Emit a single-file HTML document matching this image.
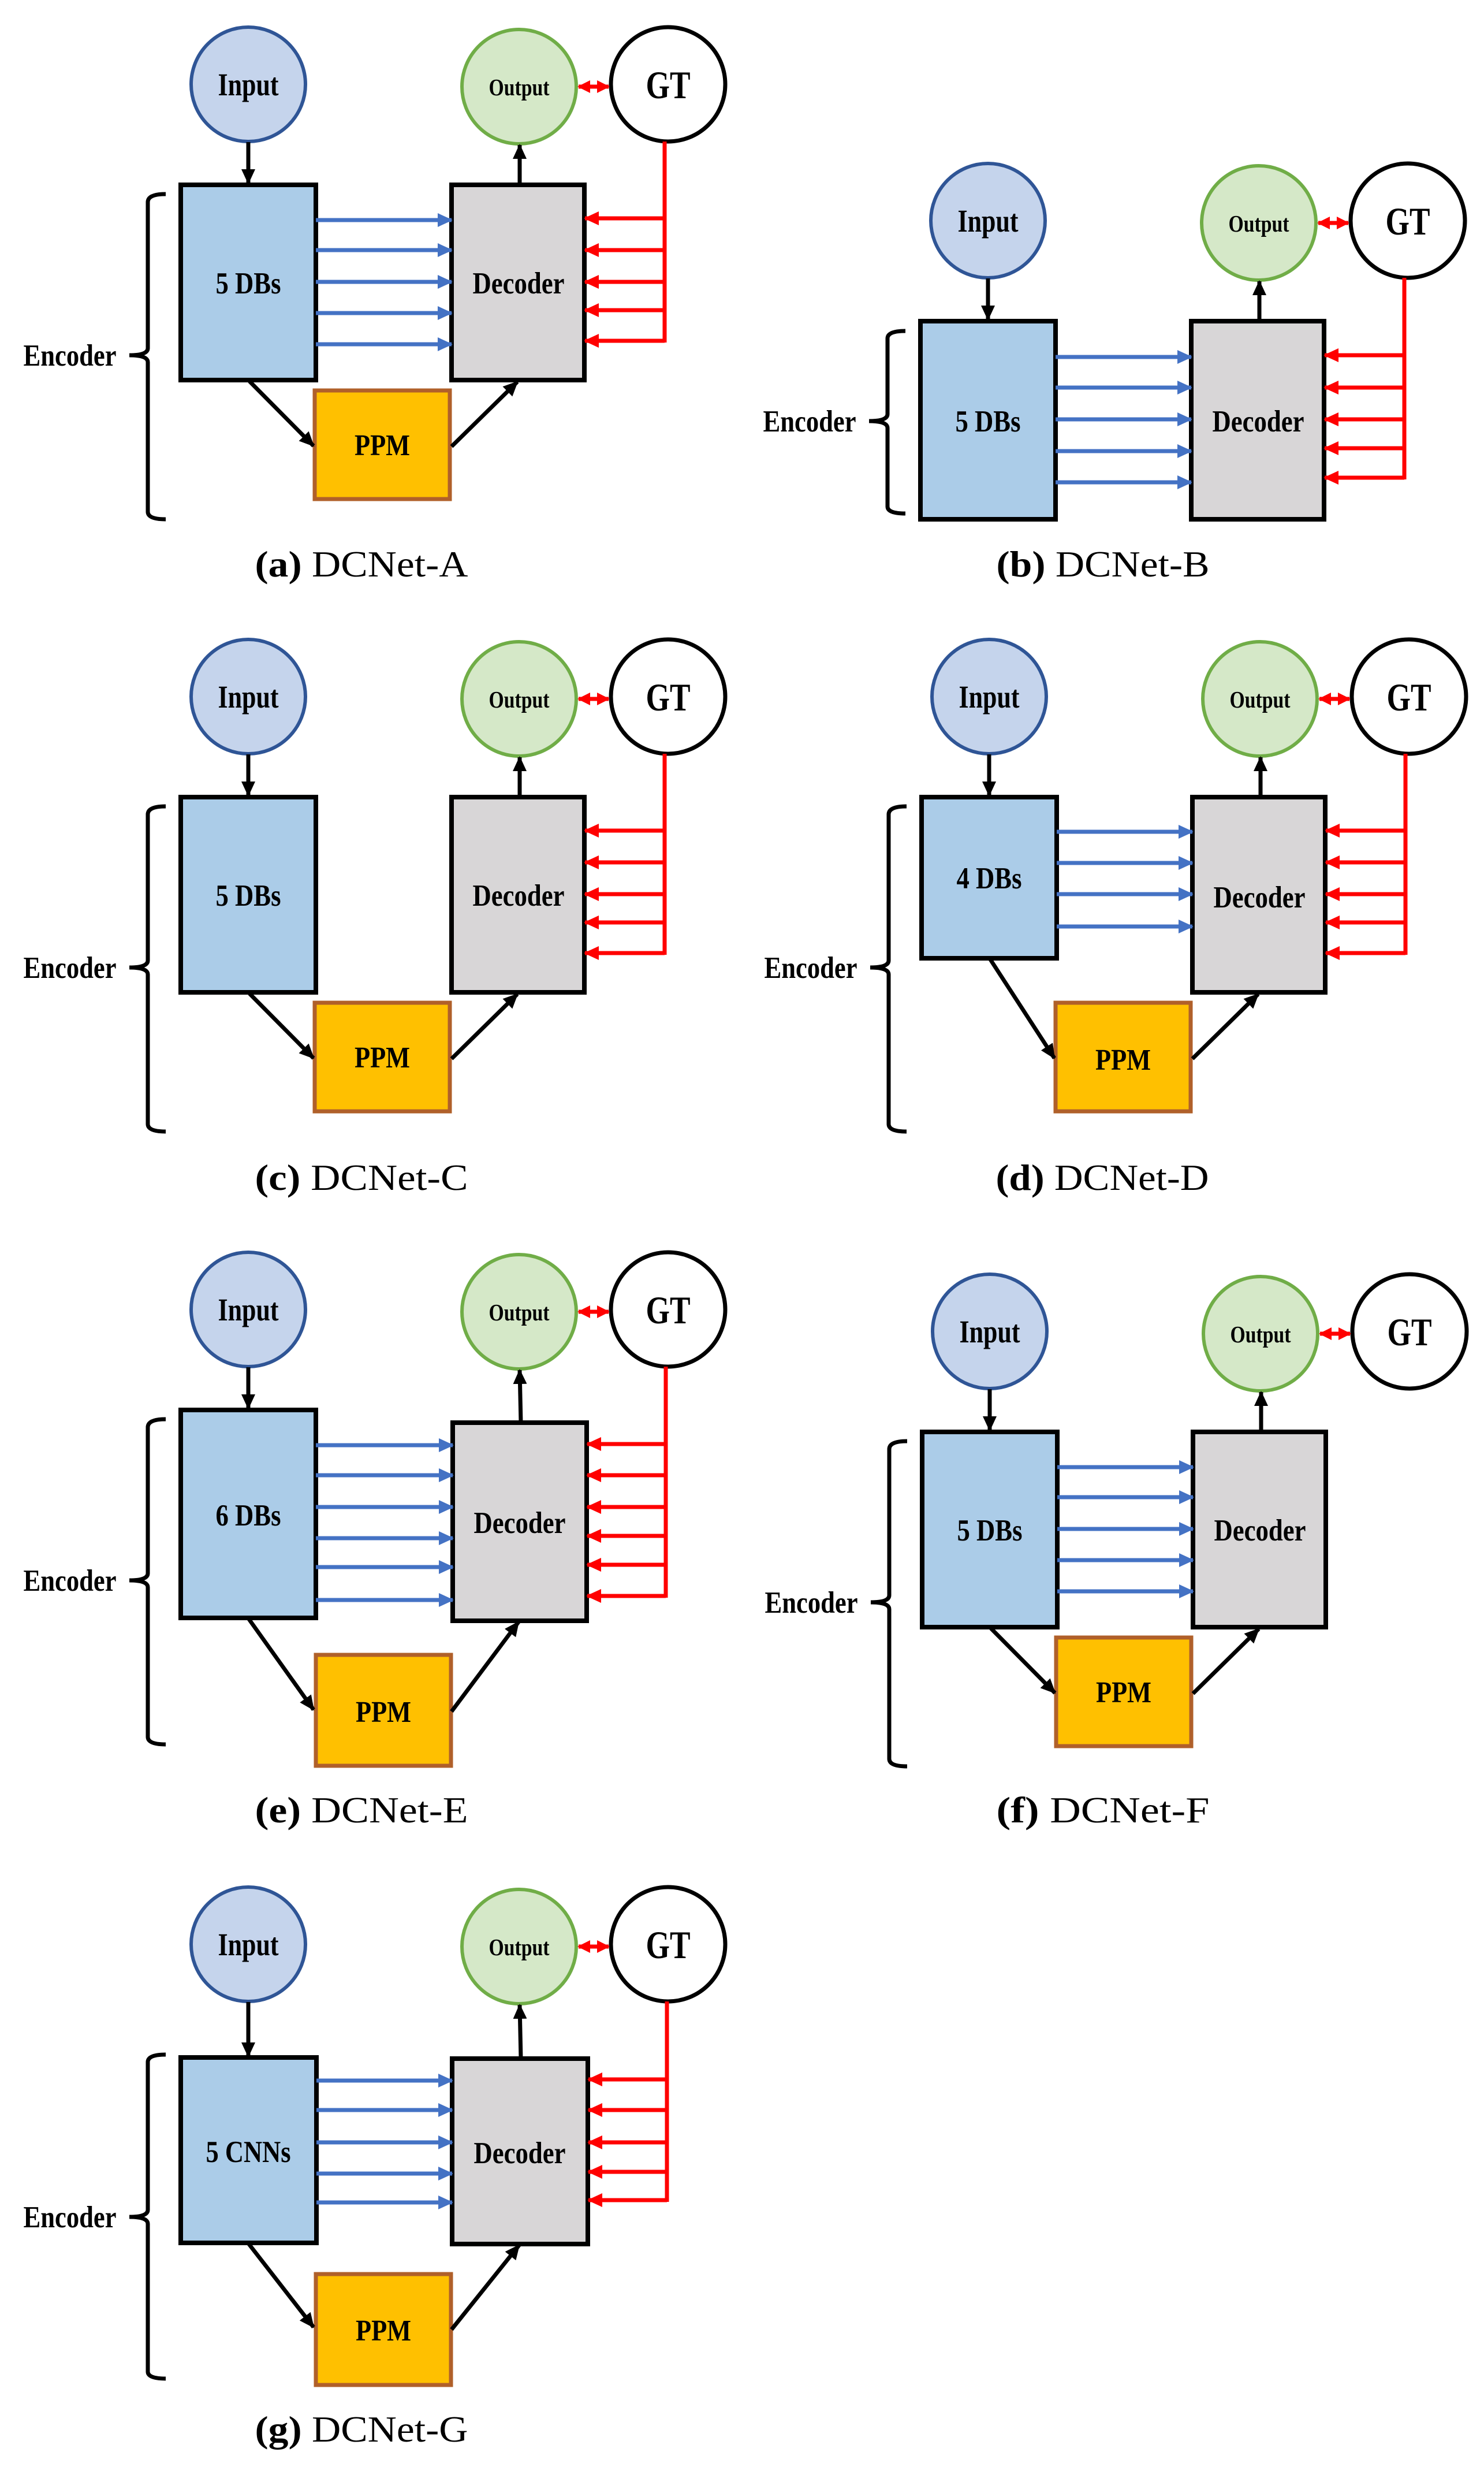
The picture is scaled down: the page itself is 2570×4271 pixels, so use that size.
<!DOCTYPE html>
<html><head><meta charset="utf-8">
<style>
html,body{margin:0;padding:0;background:#fff;}
svg{display:block;}
.t{font-family:"Liberation Serif",serif;font-weight:bold;fill:#000;text-anchor:middle;}
.cap{font-family:"Liberation Serif",serif;fill:#000;text-anchor:middle;font-size:64px;}
text[font-size="48"]{font-size:55px;}
text[font-size="36"]{font-size:41px;}
text[font-size="60"]{font-size:68px;}
text[font-size="46"]{font-size:53px;}
text[font-size="45"]{font-size:52px;}
text[font-size="47"]{font-size:53px;}
.bl{stroke:#4472c4;stroke-width:7;marker-end:url(#mb);}
.rd{stroke:#ff0000;stroke-width:7;marker-end:url(#mr);}
.rv{stroke:#ff0000;stroke-width:7;}
.bk{stroke:#000;stroke-width:7;marker-end:url(#mk);}
.dbl{stroke:#ff0000;stroke-width:7;marker-end:url(#mr2);marker-start:url(#mr2);}
.brace{fill:none;stroke:#000;stroke-width:7;}
</style></head>
<body>
<svg width="2570" height="4271" viewBox="0 0 2570 4271" xmlns="http://www.w3.org/2000/svg">
<defs>
<marker id="mb" markerUnits="userSpaceOnUse" markerWidth="26" markerHeight="26" refX="24" refY="12" orient="auto"><path d="M0,0 L26,12 L0,24 z" fill="#4472c4"/></marker>
<marker id="mr" markerUnits="userSpaceOnUse" markerWidth="26" markerHeight="26" refX="24" refY="12" orient="auto"><path d="M0,0 L26,12 L0,24 z" fill="#ff0000"/></marker>
<marker id="mr2" markerUnits="userSpaceOnUse" markerWidth="22" markerHeight="24" refX="20" refY="11" orient="auto-start-reverse"><path d="M0,0 L22,11 L0,22 z" fill="#ff0000"/></marker>
<marker id="mk" markerUnits="userSpaceOnUse" markerWidth="26" markerHeight="26" refX="24" refY="12" orient="auto"><path d="M0,0 L26,12 L0,24 z" fill="#000"/></marker>
</defs>

<!-- (a) -->
<g transform="translate(0,0)">
<circle cx="430" cy="146" r="99" fill="#c5d4ec" stroke="#2f5596" stroke-width="6"/>
<circle cx="899" cy="150" r="99" fill="#d5e8c8" stroke="#70ad47" stroke-width="6"/>
<circle cx="1157" cy="146" r="99" fill="#fff" stroke="#000" stroke-width="7"/>
<line class="dbl" x1="1002" y1="150" x2="1054" y2="150"/>
<line class="bk" x1="430" y1="246" x2="430" y2="317"/>
<rect x="313" y="320" width="234" height="338" fill="#abcce8" stroke="#000" stroke-width="8"/>
<rect x="782" y="320" width="230" height="338" fill="#d8d6d7" stroke="#000" stroke-width="8"/>
<line class="bk" x1="900" y1="320" x2="900" y2="251"/>
<line class="bl" x1="547" y1="381" x2="782" y2="381"/><line class="bl" x1="547" y1="433" x2="782" y2="433"/><line class="bl" x1="547" y1="488" x2="782" y2="488"/><line class="bl" x1="547" y1="542" x2="782" y2="542"/><line class="bl" x1="547" y1="596" x2="782" y2="596"/>
<line class="rv" x1="1151" y1="245" x2="1151" y2="593"/>
<line class="rd" x1="1151" y1="378" x2="1013" y2="378"/><line class="rd" x1="1151" y1="433" x2="1013" y2="433"/><line class="rd" x1="1151" y1="488" x2="1013" y2="488"/><line class="rd" x1="1151" y1="537" x2="1013" y2="537"/><line class="rd" x1="1151" y1="590" x2="1013" y2="590"/>
<rect x="545" y="676" width="234" height="188" fill="#ffc000" stroke="#b0602a" stroke-width="7"/>
<line class="bk" x1="432" y1="660" x2="543" y2="772"/>
<line class="bk" x1="782" y1="773" x2="896" y2="661"/>
<path class="brace" d="M287,336 Q256,336 256,350 L256,603 Q256,615 224,615 Q256,615 256,627 L256,886 Q256,899 287,899"/>
<text class="t" x="121" y="633" font-size="47" textLength="161" lengthAdjust="spacingAndGlyphs">Encoder</text>
<text class="t" x="430" y="165" font-size="48" textLength="105" lengthAdjust="spacingAndGlyphs">Input</text>
<text class="t" x="899" y="165" font-size="36" textLength="105" lengthAdjust="spacingAndGlyphs">Output</text>
<text class="t" x="1157" y="170" font-size="60" textLength="77" lengthAdjust="spacingAndGlyphs">GT</text>
<text class="t" x="430" y="508" font-size="46" textLength="113" lengthAdjust="spacingAndGlyphs">5 DBs</text>
<text class="t" x="898" y="508" font-size="46" textLength="159" lengthAdjust="spacingAndGlyphs">Decoder</text>
<text class="t" x="662" y="788" font-size="45" textLength="96" lengthAdjust="spacingAndGlyphs">PPM</text>
</g>
<text class="cap" x="626" y="998" textLength="369" lengthAdjust="spacingAndGlyphs"><tspan font-weight="bold">(a)</tspan> DCNet-A</text>

<!-- (b) -->
<g transform="translate(1281,236)">
<circle cx="430" cy="146" r="99" fill="#c5d4ec" stroke="#2f5596" stroke-width="6"/>
<circle cx="899" cy="150" r="99" fill="#d5e8c8" stroke="#70ad47" stroke-width="6"/>
<circle cx="1157" cy="146" r="99" fill="#fff" stroke="#000" stroke-width="7"/>
<line class="dbl" x1="1002" y1="150" x2="1054" y2="150"/>
<line class="bk" x1="430" y1="246" x2="430" y2="317"/>
<rect x="313" y="320" width="234" height="343" fill="#abcce8" stroke="#000" stroke-width="8"/>
<rect x="782" y="320" width="230" height="343" fill="#d8d6d7" stroke="#000" stroke-width="8"/>
<line class="bk" x1="900" y1="320" x2="900" y2="251"/>
<line class="bl" x1="547" y1="382" x2="782" y2="382"/><line class="bl" x1="547" y1="435" x2="782" y2="435"/><line class="bl" x1="547" y1="490" x2="782" y2="490"/><line class="bl" x1="547" y1="545" x2="782" y2="545"/><line class="bl" x1="547" y1="599" x2="782" y2="599"/>
<line class="rv" x1="1151" y1="245" x2="1151" y2="594"/>
<line class="rd" x1="1151" y1="379" x2="1013" y2="379"/><line class="rd" x1="1151" y1="435" x2="1013" y2="435"/><line class="rd" x1="1151" y1="490" x2="1013" y2="490"/><line class="rd" x1="1151" y1="540" x2="1013" y2="540"/><line class="rd" x1="1151" y1="591" x2="1013" y2="591"/>
<path class="brace" d="M287,337 Q256,337 256,350 L256,481 Q256,493 224,493 Q256,493 256,505 L256,641 Q256,653 287,653"/>
<text class="t" x="121" y="511" font-size="47" textLength="161" lengthAdjust="spacingAndGlyphs">Encoder</text>
<text class="t" x="430" y="165" font-size="48" textLength="105" lengthAdjust="spacingAndGlyphs">Input</text>
<text class="t" x="899" y="165" font-size="36" textLength="105" lengthAdjust="spacingAndGlyphs">Output</text>
<text class="t" x="1157" y="170" font-size="60" textLength="77" lengthAdjust="spacingAndGlyphs">GT</text>
<text class="t" x="430" y="511" font-size="46" textLength="113" lengthAdjust="spacingAndGlyphs">5 DBs</text>
<text class="t" x="898" y="511" font-size="46" textLength="159" lengthAdjust="spacingAndGlyphs">Decoder</text>
</g>
<text class="cap" x="1910" y="998" textLength="369" lengthAdjust="spacingAndGlyphs"><tspan font-weight="bold">(b)</tspan> DCNet-B</text>

<!-- (c) -->
<g transform="translate(0,1060)">
<circle cx="430" cy="146" r="99" fill="#c5d4ec" stroke="#2f5596" stroke-width="6"/>
<circle cx="899" cy="150" r="99" fill="#d5e8c8" stroke="#70ad47" stroke-width="6"/>
<circle cx="1157" cy="146" r="99" fill="#fff" stroke="#000" stroke-width="7"/>
<line class="dbl" x1="1002" y1="150" x2="1054" y2="150"/>
<line class="bk" x1="430" y1="246" x2="430" y2="317"/>
<rect x="313" y="320" width="234" height="338" fill="#abcce8" stroke="#000" stroke-width="8"/>
<rect x="782" y="320" width="230" height="338" fill="#d8d6d7" stroke="#000" stroke-width="8"/>
<line class="bk" x1="900" y1="320" x2="900" y2="251"/>
<line class="rv" x1="1151" y1="245" x2="1151" y2="593"/>
<line class="rd" x1="1151" y1="378" x2="1013" y2="378"/><line class="rd" x1="1151" y1="433" x2="1013" y2="433"/><line class="rd" x1="1151" y1="488" x2="1013" y2="488"/><line class="rd" x1="1151" y1="537" x2="1013" y2="537"/><line class="rd" x1="1151" y1="590" x2="1013" y2="590"/>
<rect x="545" y="676" width="234" height="188" fill="#ffc000" stroke="#b0602a" stroke-width="7"/>
<line class="bk" x1="432" y1="660" x2="543" y2="772"/>
<line class="bk" x1="782" y1="773" x2="896" y2="661"/>
<path class="brace" d="M287,336 Q256,336 256,350 L256,603 Q256,615 224,615 Q256,615 256,627 L256,886 Q256,899 287,899"/>
<text class="t" x="121" y="633" font-size="47" textLength="161" lengthAdjust="spacingAndGlyphs">Encoder</text>
<text class="t" x="430" y="165" font-size="48" textLength="105" lengthAdjust="spacingAndGlyphs">Input</text>
<text class="t" x="899" y="165" font-size="36" textLength="105" lengthAdjust="spacingAndGlyphs">Output</text>
<text class="t" x="1157" y="170" font-size="60" textLength="77" lengthAdjust="spacingAndGlyphs">GT</text>
<text class="t" x="430" y="508" font-size="46" textLength="113" lengthAdjust="spacingAndGlyphs">5 DBs</text>
<text class="t" x="898" y="508" font-size="46" textLength="159" lengthAdjust="spacingAndGlyphs">Decoder</text>
<text class="t" x="662" y="788" font-size="45" textLength="96" lengthAdjust="spacingAndGlyphs">PPM</text>
</g>
<text class="cap" x="626" y="2060" textLength="369" lengthAdjust="spacingAndGlyphs"><tspan font-weight="bold">(c)</tspan> DCNet-C</text>

<!-- (d) -->
<g transform="translate(1283,1060)">
<circle cx="430" cy="146" r="99" fill="#c5d4ec" stroke="#2f5596" stroke-width="6"/>
<circle cx="899" cy="150" r="99" fill="#d5e8c8" stroke="#70ad47" stroke-width="6"/>
<circle cx="1157" cy="146" r="99" fill="#fff" stroke="#000" stroke-width="7"/>
<line class="dbl" x1="1002" y1="150" x2="1054" y2="150"/>
<line class="bk" x1="430" y1="246" x2="430" y2="317"/>
<rect x="313" y="320" width="234" height="279" fill="#abcce8" stroke="#000" stroke-width="8"/>
<rect x="782" y="320" width="230" height="338" fill="#d8d6d7" stroke="#000" stroke-width="8"/>
<line class="bk" x1="900" y1="320" x2="900" y2="251"/>
<line class="bl" x1="547" y1="380" x2="782" y2="380"/><line class="bl" x1="547" y1="434" x2="782" y2="434"/><line class="bl" x1="547" y1="488" x2="782" y2="488"/><line class="bl" x1="547" y1="544" x2="782" y2="544"/>
<line class="rv" x1="1151" y1="245" x2="1151" y2="593"/>
<line class="rd" x1="1151" y1="378" x2="1013" y2="378"/><line class="rd" x1="1151" y1="433" x2="1013" y2="433"/><line class="rd" x1="1151" y1="488" x2="1013" y2="488"/><line class="rd" x1="1151" y1="537" x2="1013" y2="537"/><line class="rd" x1="1151" y1="590" x2="1013" y2="590"/>
<rect x="545" y="676" width="234" height="188" fill="#ffc000" stroke="#b0602a" stroke-width="7"/>
<line class="bk" x1="432" y1="601" x2="543" y2="772"/>
<line class="bk" x1="782" y1="773" x2="896" y2="661"/>
<path class="brace" d="M287,336 Q256,336 256,350 L256,603 Q256,615 224,615 Q256,615 256,627 L256,886 Q256,899 287,899"/>
<text class="t" x="121" y="633" font-size="47" textLength="161" lengthAdjust="spacingAndGlyphs">Encoder</text>
<text class="t" x="430" y="165" font-size="48" textLength="105" lengthAdjust="spacingAndGlyphs">Input</text>
<text class="t" x="899" y="165" font-size="36" textLength="105" lengthAdjust="spacingAndGlyphs">Output</text>
<text class="t" x="1157" y="170" font-size="60" textLength="77" lengthAdjust="spacingAndGlyphs">GT</text>
<text class="t" x="430" y="478" font-size="46" textLength="113" lengthAdjust="spacingAndGlyphs">4 DBs</text>
<text class="t" x="898" y="511" font-size="46" textLength="159" lengthAdjust="spacingAndGlyphs">Decoder</text>
<text class="t" x="662" y="792" font-size="45" textLength="96" lengthAdjust="spacingAndGlyphs">PPM</text>
</g>
<text class="cap" x="1909" y="2060" textLength="369" lengthAdjust="spacingAndGlyphs"><tspan font-weight="bold">(d)</tspan> DCNet-D</text>

<!-- (e) -->
<g transform="translate(0,2121)">
<circle cx="430" cy="146" r="99" fill="#c5d4ec" stroke="#2f5596" stroke-width="6"/>
<circle cx="899" cy="150" r="99" fill="#d5e8c8" stroke="#70ad47" stroke-width="6"/>
<circle cx="1157" cy="146" r="99" fill="#fff" stroke="#000" stroke-width="7"/>
<line class="dbl" x1="1002" y1="150" x2="1054" y2="150"/>
<line class="bk" x1="430" y1="246" x2="430" y2="317"/>
<rect x="313" y="320" width="234" height="360" fill="#abcce8" stroke="#000" stroke-width="8"/>
<rect x="784" y="342" width="232" height="343" fill="#d8d6d7" stroke="#000" stroke-width="8"/>
<line class="bk" x1="902" y1="342" x2="900" y2="251"/>
<line class="bl" x1="547" y1="381" x2="784" y2="381"/><line class="bl" x1="547" y1="433" x2="784" y2="433"/><line class="bl" x1="547" y1="488" x2="784" y2="488"/><line class="bl" x1="547" y1="542" x2="784" y2="542"/><line class="bl" x1="547" y1="592" x2="784" y2="592"/><line class="bl" x1="547" y1="649" x2="784" y2="649"/>
<line class="rv" x1="1153" y1="245" x2="1153" y2="645"/>
<line class="rd" x1="1153" y1="379" x2="1017" y2="379"/><line class="rd" x1="1153" y1="433" x2="1017" y2="433"/><line class="rd" x1="1153" y1="488" x2="1017" y2="488"/><line class="rd" x1="1153" y1="538" x2="1017" y2="538"/><line class="rd" x1="1153" y1="588" x2="1017" y2="588"/><line class="rd" x1="1153" y1="642" x2="1017" y2="642"/>
<rect x="547" y="744" width="234" height="192" fill="#ffc000" stroke="#b0602a" stroke-width="7"/>
<line class="bk" x1="431" y1="682" x2="543" y2="839"/>
<line class="bk" x1="782" y1="842" x2="898" y2="687"/>
<path class="brace" d="M287,336 Q256,336 256,350 L256,603 Q256,615 224,615 Q256,615 256,627 L256,886 Q256,899 287,899"/>
<text class="t" x="121" y="633" font-size="47" textLength="161" lengthAdjust="spacingAndGlyphs">Encoder</text>
<text class="t" x="430" y="165" font-size="48" textLength="105" lengthAdjust="spacingAndGlyphs">Input</text>
<text class="t" x="899" y="165" font-size="36" textLength="105" lengthAdjust="spacingAndGlyphs">Output</text>
<text class="t" x="1157" y="170" font-size="60" textLength="77" lengthAdjust="spacingAndGlyphs">GT</text>
<text class="t" x="430" y="520" font-size="46" textLength="113" lengthAdjust="spacingAndGlyphs">6 DBs</text>
<text class="t" x="900" y="533" font-size="46" textLength="159" lengthAdjust="spacingAndGlyphs">Decoder</text>
<text class="t" x="664" y="860" font-size="45" textLength="96" lengthAdjust="spacingAndGlyphs">PPM</text>
</g>
<text class="cap" x="626" y="3155" textLength="369" lengthAdjust="spacingAndGlyphs"><tspan font-weight="bold">(e)</tspan> DCNet-E</text>

<!-- (f) -->
<g transform="translate(1284,2159)">
<circle cx="430" cy="146" r="99" fill="#c5d4ec" stroke="#2f5596" stroke-width="6"/>
<circle cx="899" cy="150" r="99" fill="#d5e8c8" stroke="#70ad47" stroke-width="6"/>
<circle cx="1157" cy="146" r="99" fill="#fff" stroke="#000" stroke-width="7"/>
<line class="dbl" x1="1002" y1="150" x2="1054" y2="150"/>
<line class="bk" x1="430" y1="246" x2="430" y2="317"/>
<rect x="313" y="320" width="234" height="338" fill="#abcce8" stroke="#000" stroke-width="8"/>
<rect x="782" y="320" width="230" height="338" fill="#d8d6d7" stroke="#000" stroke-width="8"/>
<line class="bk" x1="900" y1="320" x2="900" y2="251"/>
<line class="bl" x1="547" y1="381" x2="782" y2="381"/><line class="bl" x1="547" y1="433" x2="782" y2="433"/><line class="bl" x1="547" y1="488" x2="782" y2="488"/><line class="bl" x1="547" y1="542" x2="782" y2="542"/><line class="bl" x1="547" y1="596" x2="782" y2="596"/>
<rect x="545" y="676" width="234" height="188" fill="#ffc000" stroke="#b0602a" stroke-width="7"/>
<line class="bk" x1="432" y1="660" x2="543" y2="772"/>
<line class="bk" x1="782" y1="773" x2="896" y2="661"/>
<path class="brace" d="M287,336 Q256,336 256,350 L256,603 Q256,615 224,615 Q256,615 256,627 L256,886 Q256,899 287,899"/>
<text class="t" x="121" y="633" font-size="47" textLength="161" lengthAdjust="spacingAndGlyphs">Encoder</text>
<text class="t" x="430" y="165" font-size="48" textLength="105" lengthAdjust="spacingAndGlyphs">Input</text>
<text class="t" x="899" y="165" font-size="36" textLength="105" lengthAdjust="spacingAndGlyphs">Output</text>
<text class="t" x="1157" y="170" font-size="60" textLength="77" lengthAdjust="spacingAndGlyphs">GT</text>
<text class="t" x="430" y="508" font-size="46" textLength="113" lengthAdjust="spacingAndGlyphs">5 DBs</text>
<text class="t" x="898" y="508" font-size="46" textLength="159" lengthAdjust="spacingAndGlyphs">Decoder</text>
<text class="t" x="662" y="788" font-size="45" textLength="96" lengthAdjust="spacingAndGlyphs">PPM</text>
</g>
<text class="cap" x="1910" y="3155" textLength="369" lengthAdjust="spacingAndGlyphs"><tspan font-weight="bold">(f)</tspan> DCNet-F</text>

<!-- (g) -->
<g transform="translate(0,3220)">
<circle cx="430" cy="146" r="99" fill="#c5d4ec" stroke="#2f5596" stroke-width="6"/>
<circle cx="899" cy="150" r="99" fill="#d5e8c8" stroke="#70ad47" stroke-width="6"/>
<circle cx="1157" cy="146" r="99" fill="#fff" stroke="#000" stroke-width="7"/>
<line class="dbl" x1="1002" y1="150" x2="1054" y2="150"/>
<line class="bk" x1="430" y1="246" x2="430" y2="340"/>
<rect x="313" y="342" width="235" height="321" fill="#abcce8" stroke="#000" stroke-width="8"/>
<rect x="783" y="344" width="235" height="321" fill="#d8d6d7" stroke="#000" stroke-width="8"/>
<line class="bk" x1="902" y1="344" x2="900" y2="251"/>
<line class="bl" x1="548" y1="382" x2="783" y2="382"/><line class="bl" x1="548" y1="433" x2="783" y2="433"/><line class="bl" x1="548" y1="489" x2="783" y2="489"/><line class="bl" x1="548" y1="543" x2="783" y2="543"/><line class="bl" x1="548" y1="593" x2="783" y2="593"/>
<line class="rv" x1="1155" y1="245" x2="1155" y2="592"/>
<line class="rd" x1="1155" y1="380" x2="1019" y2="380"/><line class="rd" x1="1155" y1="433" x2="1019" y2="433"/><line class="rd" x1="1155" y1="489" x2="1019" y2="489"/><line class="rd" x1="1155" y1="540" x2="1019" y2="540"/><line class="rd" x1="1155" y1="589" x2="1019" y2="589"/>
<rect x="547" y="717" width="234" height="192" fill="#ffc000" stroke="#b0602a" stroke-width="7"/>
<line class="bk" x1="431" y1="665" x2="543" y2="809"/>
<line class="bk" x1="782" y1="813" x2="899" y2="667"/>
<path class="brace" d="M287,337 Q256,337 256,350 L256,606 Q256,618 224,618 Q256,618 256,630 L256,886 Q256,898 287,898"/>
<text class="t" x="121" y="636" font-size="47" textLength="161" lengthAdjust="spacingAndGlyphs">Encoder</text>
<text class="t" x="430" y="165" font-size="48" textLength="105" lengthAdjust="spacingAndGlyphs">Input</text>
<text class="t" x="899" y="165" font-size="36" textLength="105" lengthAdjust="spacingAndGlyphs">Output</text>
<text class="t" x="1157" y="170" font-size="60" textLength="77" lengthAdjust="spacingAndGlyphs">GT</text>
<text class="t" x="430" y="523" font-size="46" textLength="147" lengthAdjust="spacingAndGlyphs">5 CNNs</text>
<text class="t" x="900" y="525" font-size="46" textLength="159" lengthAdjust="spacingAndGlyphs">Decoder</text>
<text class="t" x="664" y="832" font-size="45" textLength="96" lengthAdjust="spacingAndGlyphs">PPM</text>
</g>
<text class="cap" x="626" y="4227" textLength="369" lengthAdjust="spacingAndGlyphs"><tspan font-weight="bold">(g)</tspan> DCNet-G</text>
</svg>
</body></html>
